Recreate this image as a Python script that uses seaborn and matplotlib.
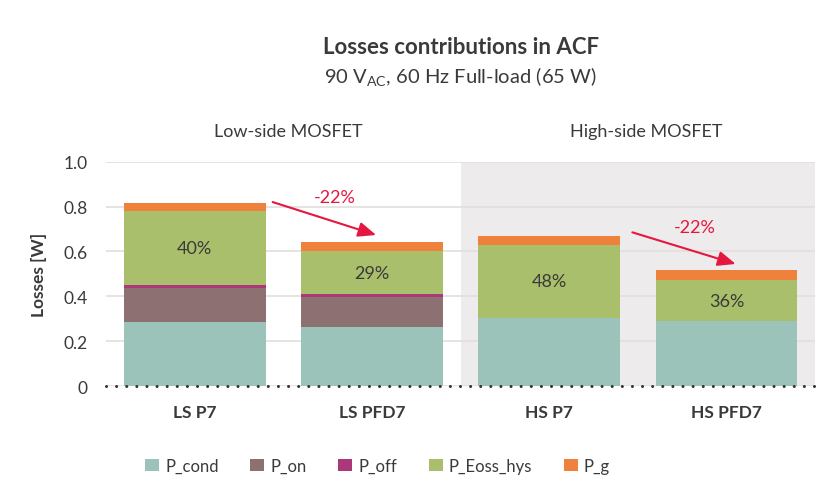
# Contribuição de perdas no ACF - gráfico de barras empilhadas
import numpy as np
import pandas as pd
import seaborn as sns
import matplotlib.pyplot as plt
from matplotlib.patches import Patch

# Dados
dispositivos = ["LS P7", "LS PFD7", "HS P7", "HS PFD7"]
p_cond = [0.287, 0.265, 0.302, 0.288]
p_on = [0.148, 0.130, 0.0, 0.0]
p_off = [0.015, 0.013, 0.0, 0.0]
p_eoss_hys = [0.330, 0.195, 0.328, 0.185]
p_g = [0.036, 0.040, 0.040, 0.043]
rotulos_eoss = ["40%", "29%", "48%", "36%"]
grupos = ["Low-side MOSFET", "High-side MOSFET"]
reducao = ["-22%", "-22%"]

componentes = ["P_cond", "P_on", "P_off", "P_Eoss_hys", "P_g"]
cores = ["#9bc3b9", "#8d7071", "#ab3878", "#aabf6b", "#ee823d"]
vermelho = "#e5173f"
texto = "#3a3a3a"

sns.set_theme(style="white")
plt.rcParams['font.family'] = ['Lato', 'DejaVu Sans']
plt.rcParams['mathtext.fontset'] = 'custom'
plt.rcParams['mathtext.rm'] = 'Lato'
plt.rcParams['text.color'] = texto

df = pd.DataFrame({"disp": dispositivos, "P_cond": p_cond, "P_on": p_on,
                   "P_off": p_off, "P_Eoss_hys": p_eoss_hys, "P_g": p_g})

fig = plt.figure(figsize=(8.17, 5.02), dpi=100)
ax = fig.add_axes([0.1297, 0.229, 0.868, 0.447])

# Barras empilhadas
base = np.zeros(len(dispositivos))
for comp, cor in zip(componentes, cores):
    sns.barplot(data=df, x="disp", y=comp, bottom=base, color=cor,
                width=0.8, saturation=1, ax=ax, label=comp,
                linewidth=0, edgecolor="none")
    base = base + df[comp].to_numpy()

# Rótulos percentuais no P_Eoss_hys
ax.bar_label(ax.containers[3], labels=rotulos_eoss, label_type="center",
             fontsize=13, color=texto)

# Fundo cinza do lado alto
ax.axvspan(1.5, 3.5, ymin=0, ymax=1, color="#eeebec", zorder=0, lw=0)
ax.set_xlim(-0.5, 3.5)
ax.set_ylim(0, 1.0)
ax.set_yticks([0, 0.2, 0.4, 0.6, 0.8, 1.0])
ax.set_yticklabels(["0", "0.2", "0.4", "0.6", "0.8", "1.0"])
ax.yaxis.grid(True, color="#e2dede", lw=1.2)
ax.set_axisbelow(True)
ax.tick_params(axis="y", length=0, pad=13, labelsize=12.5, labelcolor=texto)
ax.tick_params(axis="x", length=0, pad=13, labelsize=12.5, labelcolor=texto)
for lbl in ax.get_xticklabels():
    lbl.set_fontweight("bold")
sns.despine(ax=ax, left=True, bottom=True)
ax.set_xlabel("")
ax.set_ylabel("Losses [W]", fontsize=12.5, fontweight="bold", labelpad=12,
              color=texto)

# Linha de base pontilhada
ax.axhline(0, color="#333333", lw=2.2, ls=(0, (0.01, 3.3)),
           dash_capstyle="round", zorder=5, clip_on=False)

# Setas de redução
ax.annotate("", xy=(1.024, 0.673), xytext=(0.44, 0.82),
            arrowprops=dict(arrowstyle="-|>,head_length=0.6,head_width=0.25",
                            color=vermelho, lw=1.5, mutation_scale=18,
                            shrinkA=0, shrinkB=0))
ax.annotate("", xy=(3.052, 0.544), xytext=(2.469, 0.685),
            arrowprops=dict(arrowstyle="-|>,head_length=0.6,head_width=0.25",
                            color=vermelho, lw=1.5, mutation_scale=18,
                            shrinkA=0, shrinkB=0))
ax.text(0.79, 0.843, reducao[0], color=vermelho, fontsize=13,
        ha="center", va="center")
ax.text(2.82, 0.71, reducao[1], color=vermelho, fontsize=13,
        ha="center", va="center")

# Nomes dos grupos
ax.text(0.53, 1.138, grupos[0], fontsize=13, ha="center", va="center",
        color=texto, clip_on=False)
ax.text(2.55, 1.138, grupos[1], fontsize=13, ha="center", va="center",
        color=texto, clip_on=False)

# Títulos
fig.text(0.5637, 0.906, "Losses contributions in ACF", fontsize=16,
         fontweight="bold", ha="center", va="center", color=texto)
fig.text(0.5637, 0.845, r"90 V$_{\mathrm{AC}}$, 60 Hz Full-load (65 W)",
         fontsize=14.5, ha="center", va="center", color=texto)

# Legenda
handles = [Patch(facecolor=c, edgecolor="none") for c in cores]
ax.legend(handles, componentes, loc="center", ncol=5, frameon=False,
          bbox_to_anchor=(0.462, 0.070), bbox_transform=fig.transFigure,
          fontsize=12, handlelength=0.85, handleheight=0.8,
          handletextpad=0.35, columnspacing=1.9, labelcolor=texto)

fig.savefig("out.png", dpi=100)
